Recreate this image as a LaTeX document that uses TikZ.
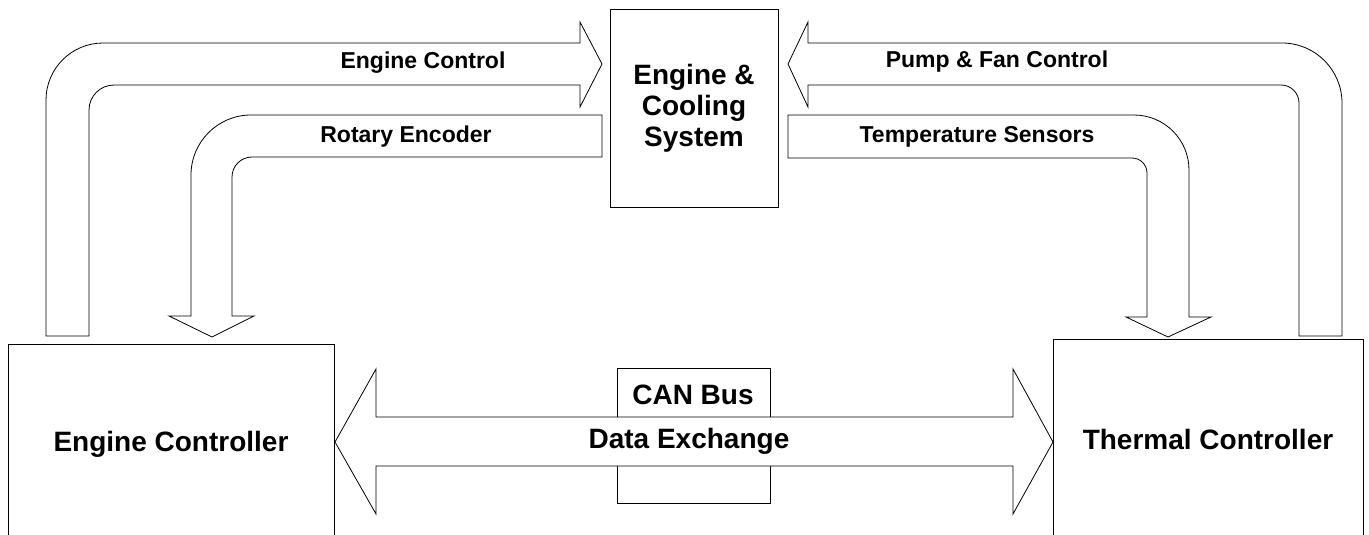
\documentclass[tikz,border=0pt]{standalone}
\usepackage{fontspec}
\setmainfont{Liberation Sans}
\begin{document}
\begin{tikzpicture}[x=1pt,y=-1pt,
  line width=0.8pt,
  bigfont/.style={font=\fontsize{28}{31}\selectfont\bfseries},
  smallfont/.style={font=\fontsize{23}{26}\selectfont\bfseries},
  block/.style={draw=black, fill=white, inner sep=0pt},
  fatarrow/.style={draw=black, fill=white, line join=miter},
  label/.style={smallfont, inner sep=0pt},
]
\useasboundingbox (0,0) rectangle (1369,535);
\clip (0,0) rectangle (1369,535);

% main blocks
\node[block, bigfont, align=center, minimum width=168pt, minimum height=198pt]
  (plant) at (694,108) {Engine \&\\Cooling\\System};
\node[block, bigfont, minimum width=326pt, minimum height=200pt]
  (ecu) at (171,444) {Engine Controller};
\node[block, bigfont, minimum width=310pt, minimum height=200pt]
  (tcu) at (1208,439) {Thermal Controller};

% CAN bus frame behind the data-exchange arrow
\node[block, minimum width=153pt, minimum height=135pt] (can) at (693.5,435.5) {};
\node[bigfont, inner sep=0pt] (canlabel) at (693,395) {CAN Bus};

% engine controller -> plant : engine control
\draw[fatarrow] (46,336) -- (46,100) arc[start angle=180, end angle=270, radius=57]
  -- (580,43) -- (580,22) -- (602,64) -- (580,107) -- (580,85) -- (114,85)
  arc[start angle=270, end angle=180, radius=25] -- (89,336) -- cycle;
\node[label] (lec) at (423,63) {Engine Control};

% plant -> engine controller : rotary encoder
\draw[fatarrow] (602,115) -- (251,115) arc[start angle=270, end angle=180, radius=60]
  -- (191,316) -- (169,316) -- (212,337) -- (254,316) -- (232,316) -- (232,177)
  arc[start angle=180, end angle=270, radius=20] -- (602,157) -- cycle;
\node[label] (lre) at (406,137) {Rotary Encoder};

% thermal controller -> plant : pump & fan control
\draw[fatarrow] (1342,336) -- (1342,103) arc[start angle=360, end angle=270, radius=60]
  -- (808,43) -- (808,22) -- (788,64) -- (808,107) -- (808,85) -- (1281,85)
  arc[start angle=270, end angle=360, radius=18] -- (1299,336) -- cycle;
\node[label] (lpf) at (997,62) {Pump \& Fan Control};

% plant -> thermal controller : temperature sensors
\draw[fatarrow] (788,115) -- (1134,115) arc[start angle=270, end angle=360, radius=55]
  -- (1189,317) -- (1211,317) -- (1168,337) -- (1126,317) -- (1147,317) -- (1147,173)
  arc[start angle=360, end angle=270, radius=15] -- (788,158) -- cycle;
\node[label] (lts) at (977,137) {Temperature Sensors};

% bidirectional data exchange between the controllers
\draw[fatarrow] (335,442) -- (376,369) -- (376,417) -- (1013,417) -- (1013,369)
  -- (1053,442) -- (1013,514) -- (1013,466) -- (376,466) -- (376,514) -- cycle;
\node[bigfont, inner sep=0pt] (ldx) at (689,441) {Data Exchange};
\end{tikzpicture}
\end{document}
